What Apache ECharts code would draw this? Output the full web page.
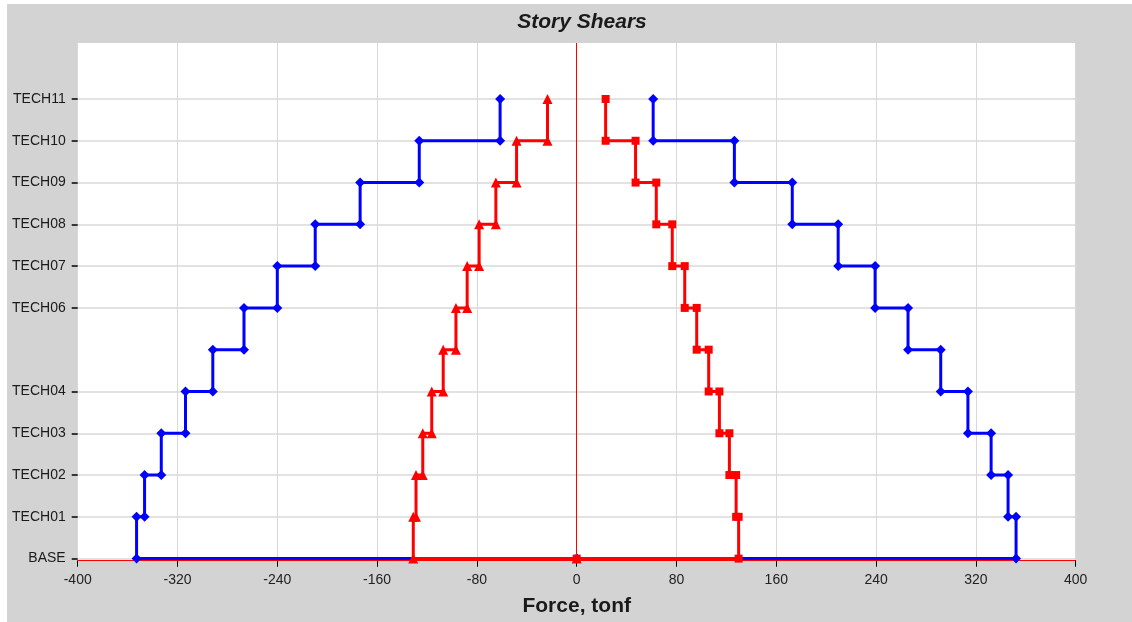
<!DOCTYPE html>
<html><head><meta charset="utf-8">
<script src="https://cdn.jsdelivr.net/npm/echarts@6/dist/echarts.min.js"></script>
<style>html,body{margin:0;padding:0;background:#fff;} #c{position:absolute;left:7px;top:4px;width:1125px;height:618px;}</style>
</head><body><div id="c"></div>
<script>
// Story levels (index = level number), TECH05 has no label/tick in the reference
const levels = ['BASE','TECH01','TECH02','TECH03','TECH04','TECH05','TECH06','TECH07','TECH08','TECH09','TECH10','TECH11'];
const labelledLevels = [0,1,2,3,4,6,7,8,9,10,11];
const xTicks = [-400,-320,-240,-160,-80,0,80,160,240,320,400];
// Story shear per story (story i spans level i..i+1), tonf
const shearBlueMax = [352.2, 345.8, 332.2, 313.6, 291.8, 265.6, 239.2, 209.6, 172.8, 126.4, 61.3];
const shearBlueMin = [-352.8, -346.4, -333.0, -313.6, -291.7, -266.7, -240.0, -209.6, -173.6, -126.2, -61.4];
const shearRedMax = [129.8, 127.8, 122.4, 114.4, 105.8, 96.2, 86.6, 76.6, 63.8, 47.2, 23.2];
const shearRedMin = [-131.0, -128.8, -123.4, -116.2, -107.0, -96.8, -87.8, -78.2, -64.8, -48.2, -23.4];

function steps(v) {
  const pts = [[0, 0]];
  for (let i = 0; i < v.length; i++) { pts.push([v[i], i]); pts.push([v[i], i + 1]); }
  return pts;
}
const FONT = '"Liberation Sans", Arial, sans-serif';
function ser(name, vals, color, symbol, size) {
  return { name, type: 'line', data: steps(vals), symbol, symbolSize: size,
    lineStyle: { color, width: 3 }, itemStyle: { color }, animation: false, z: color === '#ff0000' ? 4 : 3 };
}
const chart = echarts.init(document.getElementById('c'));
chart.setOption({
  backgroundColor: '#d3d3d3',
  animation: false,
  title: { text: 'Story Shears', left: 570, textAlign: 'center', top: 3,
    textStyle: { fontFamily: FONT, fontSize: 21, fontWeight: 'bold', fontStyle: 'italic', color: '#1a1a1a' } },
  grid: { left: 70.7, right: 56.3, top: 39, bottom: 61.3, show: true, backgroundColor: '#ffffff', borderWidth: 0,
    outerBoundsMode: 'none', containLabel: false },
  xAxis: {
    type: 'value', min: -400, max: 400, interval: 80,
    name: 'Force, tonf', nameLocation: 'middle', nameGap: 35,
    nameTextStyle: { fontFamily: FONT, fontSize: 21, fontWeight: 'bold', color: '#1a1a1a' },
    axisLine: { show: true, onZero: false, lineStyle: { color: '#ff0000', width: 1 } },
    axisTick: { show: true, length: 6, lineStyle: { color: '#000', width: 1 } },
    axisLabel: { fontFamily: FONT, fontSize: 14, color: '#222', margin: 12,
      formatter: v => xTicks.includes(v) ? String(v) : '' },
    splitLine: { show: true, lineStyle: { color: '#d8d8d8', width: 1 } }
  },
  yAxis: {
    type: 'value', min: -0.05, max: 12.34,
    axisLine: { show: false, onZero: false },
    axisTick: { show: true, length: 6, customValues: labelledLevels, lineStyle: { color: '#000', width: 1.5 } },
    axisLabel: { fontFamily: FONT, fontSize: 14, color: '#1a1a1a', margin: 12, customValues: labelledLevels,
      formatter: v => levels[Math.round(v)] },
    splitLine: { show: true, lineStyle: { color: '#d8d8d8', width: 1.5 } }
  },
  series: [
    ser('Blue Min', shearBlueMin, '#0000ff', 'diamond', 10),
    ser('Blue Max', shearBlueMax, '#0000ff', 'diamond', 10),
    Object.assign(ser('Red Min', shearRedMin, '#ff0000', 'triangle', 10), {
      markLine: { silent: true, symbol: 'none', label: { show: false },
        lineStyle: { color: '#ff0000', width: 1, type: 'solid' }, data: [{ xAxis: 0 }] } }),
    ser('Red Max', shearRedMax, '#ff0000', 'rect', 8)
  ]
});
</script></body></html>
